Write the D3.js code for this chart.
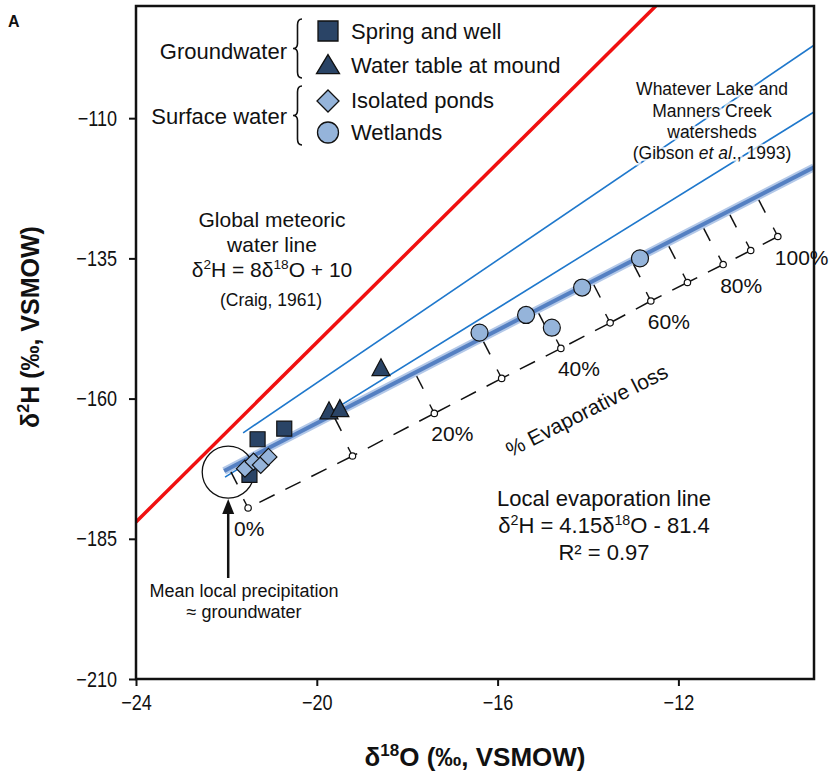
<!DOCTYPE html>
<html>
<head>
<meta charset="utf-8">
<script src="https://cdn.jsdelivr.net/npm/d3@7"></script>
<style>
body { margin: 0; background: #fff; }
text { font-family: "Liberation Sans", Arial, sans-serif; fill: #111; }
</style>
</head>
<body>
<svg id="chart" width="830" height="777"></svg>
<script>
// axes
var xDomain = [-24, -9];
var yDomain = [-210, -90];
var xTicks = [-24, -20, -16, -12];
var yTicks = [-210, -185, -160, -135, -110];

// samples (d18O, d2H)
var springWell = [[-21.31, -167.25], [-20.72, -165.36], [-21.49, -173.6]];
var waterTable = [[-18.58, -154.7], [-19.73, -162.4], [-19.49, -162.0]];
var ponds = [[-21.59, -172.5], [-21.40, -171.25], [-21.24, -171.84], [-21.07, -170.4]];
var wetlands = [[-16.40, -148.25], [-15.37, -145.09], [-14.80, -147.36], [-14.13, -140.2], [-12.85, -135.0]];

// lines
var gmwl = [[-24, -182], [-12.5, -90]];
var lelSlope = 4.15, lelIntercept = -81.4;
var lelRange = [-22.05, -9];
var gibsonUpper = [[-21.63, -166.1], [-9, -97.0]];
var gibsonLower = [[-22.03, -174.0], [-9, -108.9]];
var meanPrecip = [-21.96, -173.1];

// evaporative loss scale
var lossPct = [0, 10, 20, 30, 40, 50, 60, 70, 80, 90, 100];
var lelTickX = [-21.94, -19.64, -17.83, -16.35, -15.13, -13.91, -13.03, -12.25, -11.48, -10.90, -10.26];
var lossMarkX = [-21.52, -19.21, -17.40, -15.91, -14.60, -13.51, -12.61, -11.80, -11.01, -10.40, -9.80];
var lossMarkY = [-179.5, -170.24, -162.64, -156.4, -151.05, -146.5, -142.6, -139.3, -136.1, -133.6, -131.1];
var lossLabelPct = [0, 20, 40, 60, 80, 100];

var svg = d3.select('#chart');
var m = {left: 136, top: 6, right: 814, bottom: 679};
var x = d3.scaleLinear().domain(xDomain).range([m.left, m.right]);
var y = d3.scaleLinear().domain(yDomain).range([m.bottom, m.top]);

svg.append('defs').append('clipPath').attr('id', 'clip')
   .append('rect').attr('x', m.left).attr('y', m.top)
   .attr('width', m.right - m.left).attr('height', m.bottom - m.top);

var line = d3.line().x(function(d){ return x(d[0]); }).y(function(d){ return y(d[1]); });
var plot = svg.append('g').attr('clip-path', 'url(#clip)');

// gibson lines
[gibsonUpper, gibsonLower].forEach(function(l){
   plot.append('path').datum(l).attr('d', line)
      .attr('fill', 'none').attr('stroke', '#1f78cc').attr('stroke-width', 1.6);
});

// GMWL
plot.append('path').datum(gmwl).attr('d', line)
   .attr('fill', 'none').attr('stroke', '#f01010').attr('stroke-width', 3.5);

// LEL ticks (perpendicular in pixel space)
var lelPts = lelRange.map(function(v){ return [v, lelSlope * v + lelIntercept]; });
var ang = Math.atan2(y(lelPts[1][1]) - y(lelPts[0][1]), x(lelPts[1][0]) - x(lelPts[0][0]));
var px = -Math.sin(ang), py = Math.cos(ang);
if (py < 0) { px = -px; py = -py; }
plot.selectAll('.lelTick').data(lelTickX).enter().append('line')
   .attr('x1', function(d){ return x(d); })
   .attr('y1', function(d){ return y(lelSlope * d + lelIntercept); })
   .attr('x2', function(d){ return x(d) + px * 18; })
   .attr('y2', function(d){ return y(lelSlope * d + lelIntercept) + py * 18; })
   .attr('stroke', '#111').attr('stroke-width', 1.5);

// LEL thick line
plot.append('path').datum(lelPts).attr('d', line)
   .attr('fill', 'none').attr('stroke', '#b3c8e8').attr('stroke-width', 8);
plot.append('path').datum(lelPts).attr('d', line)
   .attr('fill', 'none').attr('stroke', '#5580c2').attr('stroke-width', 4);

// dashed evaporative loss line
var marks = lossPct.map(function(p, i){ return {p: p, x: lossMarkX[i], y: lossMarkY[i]}; });
for (var i = 0; i < marks.length - 1; i++) {
   plot.append('line')
      .attr('x1', x(marks[i + 1].x)).attr('y1', y(marks[i + 1].y))
      .attr('x2', x(marks[i].x)).attr('y2', y(marks[i].y))
      .attr('stroke', '#111').attr('stroke-width', 1.5)
      .attr('stroke-dasharray', '17,12');
}
plot.selectAll('.stem').data(marks).enter().append('line')
   .attr('x1', function(d){ return x(d.x); }).attr('y1', function(d){ return y(d.y); })
   .attr('x2', function(d){ return x(d.x) - px * 10; }).attr('y2', function(d){ return y(d.y) - py * 10; })
   .attr('stroke', '#111').attr('stroke-width', 1.4);
plot.selectAll('.mark').data(marks).enter().append('circle')
   .attr('cx', function(d){ return x(d.x); }).attr('cy', function(d){ return y(d.y); })
   .attr('r', 3.2).attr('fill', '#fff').attr('stroke', '#111').attr('stroke-width', 1.2);

// mean local precipitation circle
plot.append('circle').attr('cx', x(meanPrecip[0])).attr('cy', y(meanPrecip[1])).attr('r', 26)
   .attr('fill', 'none').attr('stroke', '#111').attr('stroke-width', 1.3);

// symbols
function sq(s){ return 'M' + (-s/2) + ',' + (-s/2) + 'h' + s + 'v' + s + 'h' + (-s) + 'Z'; }
function tri(w, h){ return 'M0,' + (-h*0.6) + 'L' + (w/2) + ',' + (h*0.4) + 'L' + (-w/2) + ',' + (h*0.4) + 'Z'; }
function dia(s){ return 'M0,' + (-s/2) + 'L' + (s/2) + ',0L0,' + (s/2) + 'L' + (-s/2) + ',0Z'; }
var dark = '#2a4466', light = '#95b4da';

function drawPts(data, path, fill){
   plot.selectAll(null).data(data).enter().append('path')
      .attr('d', path)
      .attr('transform', function(d){ return 'translate(' + x(d[0]) + ',' + y(d[1]) + ')'; })
      .attr('fill', fill).attr('stroke', '#111').attr('stroke-width', 1.2);
}
drawPts(springWell, sq(15), dark);
drawPts(ponds, dia(17), light);
drawPts(waterTable, tri(18, 17), dark);
plot.selectAll(null).data(wetlands).enter().append('circle')
   .attr('cx', function(d){ return x(d[0]); }).attr('cy', function(d){ return y(d[1]); })
   .attr('r', 8.5).attr('fill', light).attr('stroke', '#111').attr('stroke-width', 1.2);

// frame and axes
svg.append('rect').attr('x', m.left).attr('y', m.top)
   .attr('width', m.right - m.left).attr('height', m.bottom - m.top)
   .attr('fill', 'none').attr('stroke', '#111').attr('stroke-width', 2.5);

var fmt = function(d){ return '\u2212' + Math.abs(d); };
var xAxis = svg.append('g').attr('transform', 'translate(0,' + m.bottom + ')')
   .call(d3.axisBottom(x).tickValues(xTicks).tickSize(7).tickPadding(8).tickFormat(fmt));
var yAxis = svg.append('g').attr('transform', 'translate(' + m.left + ',0)')
   .call(d3.axisLeft(y).tickValues(yTicks).tickSize(7).tickPadding(12).tickFormat(fmt));
[xAxis, yAxis].forEach(function(a){
   a.select('.domain').remove();
   a.selectAll('line').attr('stroke', '#111').attr('stroke-width', 2);
   a.selectAll('text').attr('font-size', 22).attr('fill', '#111')
      .attr('font-family', '"Liberation Sans", Arial, sans-serif')
      .each(function(){
         // narrow face like the original
         var w = this.getComputedTextLength();
         d3.select(this).attr('textLength', w * 0.82).attr('lengthAdjust', 'spacingAndGlyphs');
      });
});

// axis titles
var xt = svg.append('text').attr('x', (m.left + m.right) / 2).attr('y', 766)
   .attr('text-anchor', 'middle').attr('font-size', 26).attr('font-weight', 'bold');
xt.append('tspan').text('\u03b4');
xt.append('tspan').attr('font-size', 17).attr('dy', -10).text('18');
xt.append('tspan').attr('dy', 10).text('O (\u2030, VSMOW)');

var yt = svg.append('text')
   .attr('transform', 'translate(39,327) rotate(-90)')
   .attr('text-anchor', 'middle').attr('font-size', 25).attr('font-weight', 'bold');
yt.append('tspan').text('\u03b4');
yt.append('tspan').attr('font-size', 16).attr('dy', -10).text('2');
yt.append('tspan').attr('dy', 10).text('H (\u2030, VSMOW)');

svg.append('text').attr('x', 8).attr('y', 27).attr('font-size', 16).attr('font-weight', 'bold').text('A');

// legend
var lg = svg.append('g');
var lx = 328;
lg.append('path').attr('d', sq(20)).attr('transform', 'translate(' + lx + ',31)')
   .attr('fill', dark).attr('stroke', '#111').attr('stroke-width', 1.3);
lg.append('path').attr('d', tri(23, 19)).attr('transform', 'translate(' + lx + ',66)')
   .attr('fill', dark).attr('stroke', '#111').attr('stroke-width', 1.3);
lg.append('path').attr('d', dia(22)).attr('transform', 'translate(' + lx + ',101)')
   .attr('fill', light).attr('stroke', '#111').attr('stroke-width', 1.3);
lg.append('circle').attr('cx', lx).attr('cy', 132.5).attr('r', 10.5)
   .attr('fill', light).attr('stroke', '#111').attr('stroke-width', 1.3);
var legendNames = ['Spring and well', 'Water table at mound', 'Isolated ponds', 'Wetlands'];
var legendBase = [39, 73, 108, 140];
lg.selectAll('.ln').data(legendNames).enter().append('text')
   .attr('x', 351).attr('y', function(d, i){ return legendBase[i]; })
   .attr('font-size', 22).text(function(d){ return d; });
lg.append('text').attr('x', 287).attr('y', 59).attr('text-anchor', 'end').attr('font-size', 22).text('Groundwater');
lg.append('text').attr('x', 287).attr('y', 124).attr('text-anchor', 'end').attr('font-size', 22).text('Surface water');
function brace(x0, y0, y1){
   var ym = (y0 + y1) / 2, w = 9;
   return 'M' + (x0 + w) + ',' + y0 + ' Q' + (x0 + w/2) + ',' + y0 + ' ' + (x0 + w/2) + ',' + (y0 + 6) +
      ' L' + (x0 + w/2) + ',' + (ym - 5) + ' Q' + (x0 + w/2) + ',' + ym + ' ' + x0 + ',' + ym +
      ' Q' + (x0 + w/2) + ',' + ym + ' ' + (x0 + w/2) + ',' + (ym + 5) +
      ' L' + (x0 + w/2) + ',' + (y1 - 6) + ' Q' + (x0 + w/2) + ',' + y1 + ' ' + (x0 + w) + ',' + y1;
}
lg.append('path').attr('d', brace(293, 19, 78)).attr('fill', 'none').attr('stroke', '#111').attr('stroke-width', 1.6);
lg.append('path').attr('d', brace(293, 86, 145)).attr('fill', 'none').attr('stroke', '#111').attr('stroke-width', 1.6);

// annotations
function label(xp, yp, size, parts, anchor, halo){
   var t = svg.append('text').attr('x', xp).attr('y', yp).attr('font-size', size)
      .attr('text-anchor', anchor || 'middle');
   if (halo) t.attr('stroke', '#fff').attr('stroke-width', 5).attr('stroke-opacity', 0.7)
      .attr('paint-order', 'stroke').attr('stroke-linejoin', 'round');
   parts.forEach(function(p){
      var s = t.append('tspan').text(p.t);
      if (p.sup) s.attr('font-size', size * 0.65).attr('dy', -size * 0.38);
      if (p.down) s.attr('dy', size * 0.38);
      if (p.it) s.attr('font-style', 'italic');
   });
   return t;
}
label(272, 227, 21, [{t: 'Global meteoric'}]);
label(272, 252, 21, [{t: 'water line'}]);
label(272, 277, 21, [{t: '\u03b4'}, {t: '2', sup: 1}, {t: 'H = 8\u03b4', down: 1}, {t: '18', sup: 1}, {t: 'O + 10', down: 1}]);
label(271, 306, 17.5, [{t: '(Craig, 1961)'}]);

label(712, 95, 17.5, [{t: 'Whatever Lake and'}], 'middle', 1);
label(712, 117, 17.5, [{t: 'Manners Creek'}], 'middle', 1);
label(712, 138, 17.5, [{t: 'watersheds'}], 'middle', 1);
label(712, 159, 17.5, [{t: '(Gibson '}, {t: 'et al', it: 1}, {t: '., 1993)'}], 'middle', 1);

label(604, 506, 22, [{t: 'Local evaporation line'}]);
label(604, 533, 22, [{t: '\u03b4'}, {t: '2', sup: 1}, {t: 'H = 4.15\u03b4', down: 1}, {t: '18', sup: 1}, {t: 'O - 81.4', down: 1}]);
label(604, 560, 22, [{t: 'R\u00b2 = 0.97'}]);

label(244, 597, 18, [{t: 'Mean local precipitation'}]);
label(244, 618, 18, [{t: '\u2248 groundwater'}]);

svg.append('text').attr('transform', 'translate(590,417) rotate(-27)')
   .attr('text-anchor', 'middle').attr('font-size', 21).text('% Evaporative loss');

// percent labels
svg.selectAll('.pl').data(lossLabelPct).enter().append('text')
   .attr('x', function(d){ var i = lossPct.indexOf(d); return x(lossMarkX[i]) - (d === 0 ? 14 : 3); })
   .attr('y', function(d){ var i = lossPct.indexOf(d); return y(lossMarkY[i]) + 28; })
   .attr('font-size', 21).text(function(d){ return d + '%'; });

// arrow to mean precipitation
var ax = x(meanPrecip[0]), ay = y(meanPrecip[1]) + 27;
svg.append('line').attr('x1', ax).attr('y1', 578).attr('x2', ax).attr('y2', ay + 12)
   .attr('stroke', '#111').attr('stroke-width', 2.5);
svg.append('path').attr('d', 'M' + ax + ',' + ay + 'L' + (ax + 6) + ',' + (ay + 15) + 'L' + (ax - 6) + ',' + (ay + 15) + 'Z')
   .attr('fill', '#111');
</script>
</body>
</html>
